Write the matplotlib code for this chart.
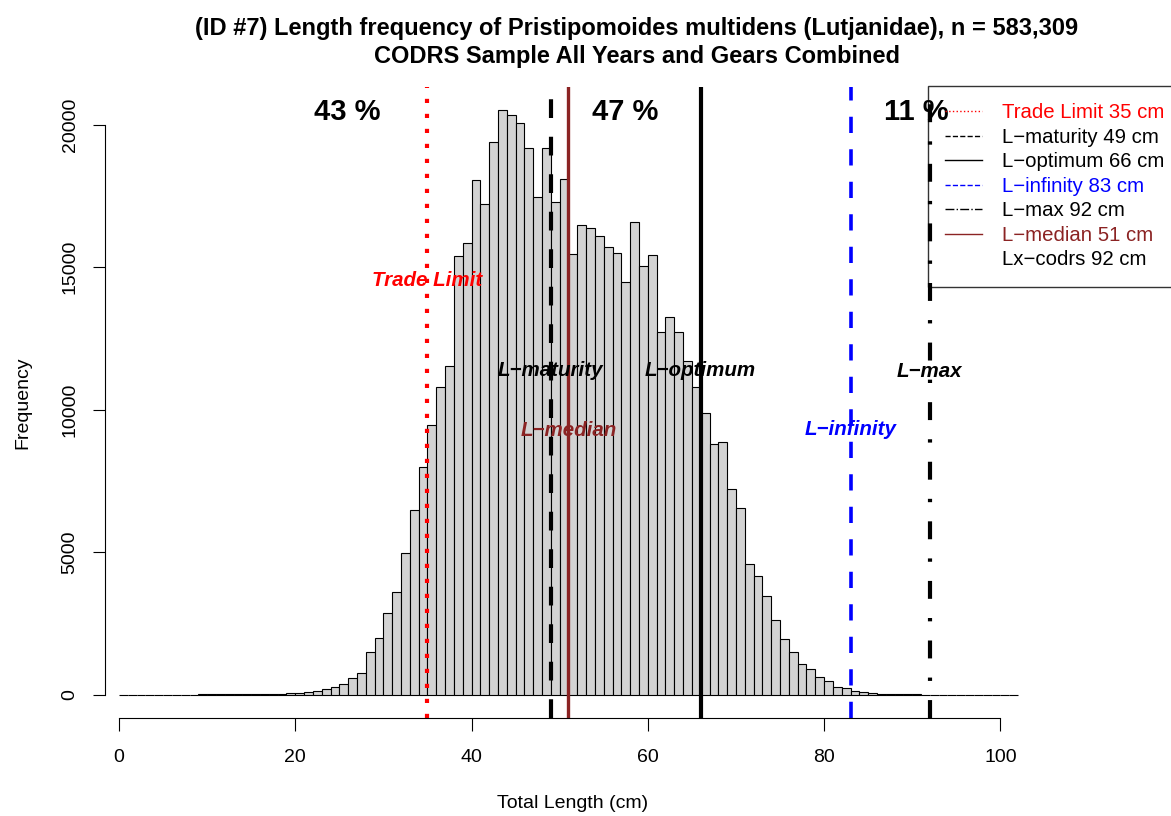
import numpy as np
import matplotlib
matplotlib.use('Agg')
import matplotlib.pyplot as plt
from matplotlib.lines import Line2D

plt.rcParams['font.family'] = ['Liberation Sans', 'DejaVu Sans']

# length frequency counts, 1 cm bins starting at 0 cm
counts = [0, 0, 1, 1, 2, 2, 3, 3, 4, 5,
          6, 8, 10, 12, 15, 18, 22, 28, 35, 45,
          60, 85, 120, 195, 280, 390, 575, 775, 1500, 1970,
          2870, 3600, 4970, 6490, 8000, 9450, 10780, 11530, 15410, 15840,
          18060, 17210, 19390, 20500, 20340, 20060, 19170, 17470, 19200, 17300,
          18080, 15460, 16490, 16390, 16090, 15710, 15500, 14470, 16570, 15030,
          15430, 12710, 13240, 12735, 11710, 10780, 9870, 8790, 8850, 7230,
          6540, 4590, 4180, 3450, 2630, 1935, 1490, 1080, 905, 635,
          495, 285, 225, 145, 95, 60, 35, 22, 14, 9,
          6, 4, 3, 2, 1, 1, 1, 0, 1, 0,
          0, 1]
bin_start = np.arange(len(counts))

ref_names = ['Trade Limit', 'L\u2212maturity', 'L\u2212optimum', 'L\u2212infinity', 'L\u2212max', 'L\u2212median']
ref_values = [35, 49, 66, 83, 92, 51]
ref_colors = ['red', 'black', 'black', 'blue', 'black', '#8B2323']
ref_styles = [(0, (1, 2.6)), (0, (4.5, 4.5)), '-', (0, (4.5, 4.5)), (0, (4.3, 4.6, 0.8, 4.6)), '-']
ref_widths = [3.0, 3.0, 3.0, 2.6, 3.0, 2.4]
ref_label_y = [14550, 11390, 11390, 9310, 11330, 9280]

pct_labels = ['43 %', '47 %', '11 %']
pct_x = [25.9, 57.4, 90.5]
pct_y = 20450

codrs_max = 92

fig = plt.figure(figsize=(11.71, 8.16), dpi=100)
ax = fig.add_axes([105/1171, 1-718/816, 935/1171, 631/816])

ax.bar(bin_start, counts, width=1, align='edge', color='#D3D3D3',
       edgecolor='black', linewidth=0.8, zorder=1)

for name, v, c, ls, lw in zip(ref_names, ref_values, ref_colors, ref_styles, ref_widths):
    ax.axvline(v, color=c, linestyle=ls, linewidth=lw, zorder=2)

for name, v, c, y in zip(ref_names, ref_values, ref_colors, ref_label_y):
    ax.text(v, y, name, color=c, fontsize=14.8, fontweight='bold', fontstyle='italic',
            ha='center', va='center', zorder=3)

for t, x in zip(pct_labels, pct_x):
    ax.text(x, pct_y, t, fontsize=21, fontweight='bold', ha='center', va='center', zorder=3)

ax.set_xlim(-1.59, 104.5)
ax.set_ylim(-820, 21324)

for s in ['top', 'right']:
    ax.spines[s].set_visible(False)
ax.spines['left'].set_bounds(0, 20000)
ax.spines['bottom'].set_bounds(0, 100)
ax.spines['left'].set_linewidth(0.8)
ax.spines['bottom'].set_linewidth(0.8)

ax.set_xticks([0, 20, 40, 60, 80, 100])
ax.set_yticks([0, 5000, 10000, 15000, 20000])
ax.tick_params(axis='both', direction='out', length=9, width=0.8, labelsize=14)
ax.tick_params(axis='x', pad=13)
ax.tick_params(axis='y', pad=10)
for lab in ax.get_yticklabels():
    lab.set_rotation(90)
    lab.set_va('center')

ax.set_xlabel('Total Length (cm)', fontsize=14, labelpad=21)
ax.set_ylabel('Frequency', fontsize=14, labelpad=22)

fig.text(637/1171, 1-29/816, '(ID #7) Length frequency of Pristipomoides multidens (Lutjanidae), n = 583,309',
         ha='center', va='center', fontsize=17, fontweight='bold')
fig.text(637/1171, 1-56/816, 'CODRS Sample All Years and Gears Combined',
         ha='center', va='center', fontsize=17, fontweight='bold')

handles = []
for name, c, ls in zip(ref_names, ref_colors, ['dotted', 'dashed', 'solid', 'dashed', 'dashdot', 'solid']):
    handles.append(Line2D([0], [0], color=c, linestyle=ls, linewidth=1))
handles.append(Line2D([0], [0], color='none'))
labels = ['%s %d cm' % (n, v) for n, v in zip(ref_names, ref_values)]
labels.append('Lx\u2212codrs %d cm' % codrs_max)

leg = fig.legend(handles, labels, loc='upper left', bbox_to_anchor=(928/1171, 1-86/816),
                 bbox_transform=fig.transFigure, fontsize=14.7, frameon=True, fancybox=False,
                 borderpad=0.85, labelspacing=0.27, handlelength=1.8, handletextpad=0.95,
                 borderaxespad=0)
leg.get_frame().set_facecolor('none')
leg.get_frame().set_edgecolor('black')
leg.get_frame().set_linewidth(1.0)
for txt, c in zip(leg.get_texts(), ref_colors + ['black']):
    txt.set_color(c)

fig.savefig('out.png', dpi=100)
